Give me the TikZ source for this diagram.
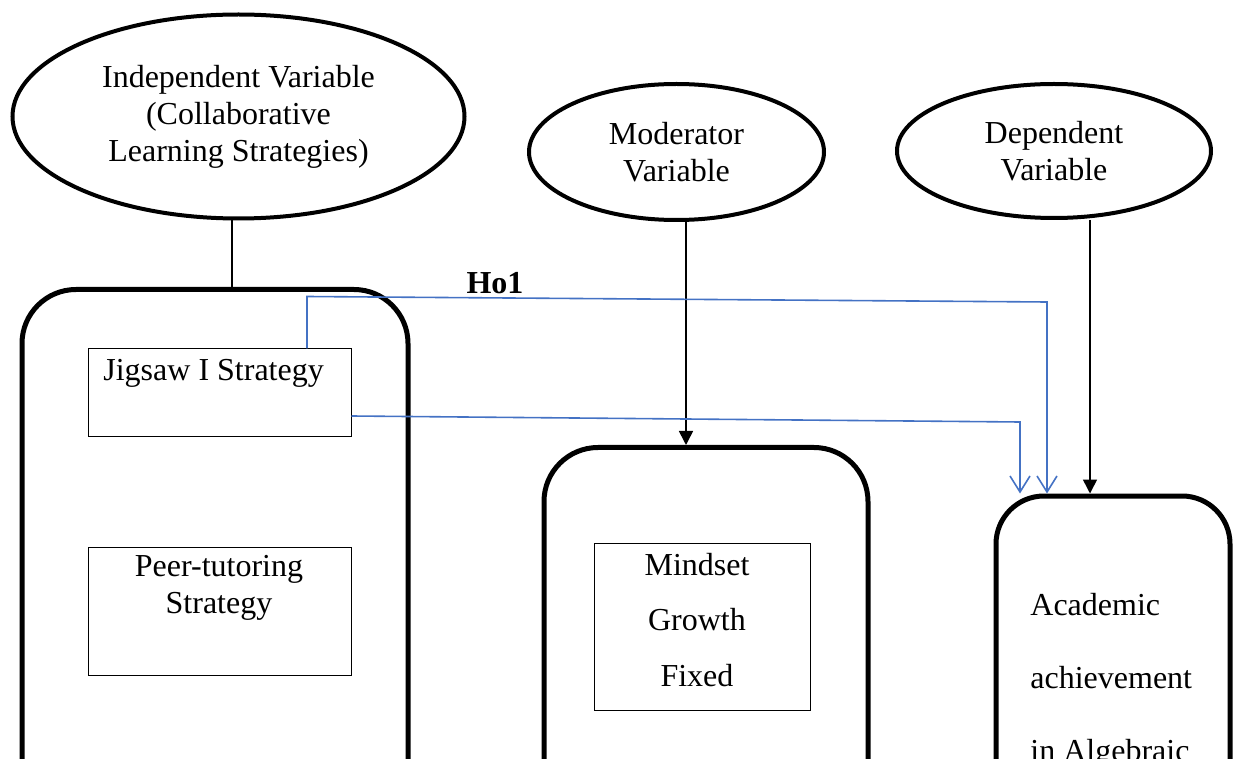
\documentclass[tikz,border=0pt]{standalone}
\usepackage{xcolor}
\usepackage{fontspec}
\setmainfont{Liberation Serif}
\usetikzlibrary{arrows.meta,shapes.geometric}

\begin{document}
\begin{tikzpicture}[x=0.5pt,y=-0.5pt]
    \definecolor{hoblue}{RGB}{68,114,196}

    \fontsize{16pt}{18.5pt}\selectfont  % font size
    \tikzstyle{var}=[ellipse,draw,line width=2pt,inner sep=0pt,align=center]  % variable ellipses
    \tikzstyle{group}=[rectangle,draw,line width=2.5pt,rounded corners=27pt]  % big rounded blocks
    \tikzstyle{item}=[rectangle,draw,line width=0.5pt]  % inner boxes
    \tikzstyle{txt}=[inner sep=0pt]  % plain text
    \tikzstyle{link}=[line width=0.8pt,-{Triangle[length=7pt,width=7pt]}]  % black arrows
    \tikzstyle{ho}=[hoblue,line width=0.8pt,-{Straight Barb[length=8pt,width=10pt]}]  % hypothesis arrows

    \useasboundingbox (0,0) rectangle (1238,759);
    \clip (0,0) rectangle (1238,759);

    % variables
    \node[var,minimum width=226pt,minimum height=102pt] (iv) at (238.5,116.5)
        {Independent Variable\\(Collaborative\\Learning Strategies)};
    \node[var,minimum width=147.5pt,minimum height=68pt] (mod) at (676.5,152)
        {Moderator\\Variable};
    \node[var,minimum width=157pt,minimum height=67pt] (dep) at (1054,151)
        {Dependent\\Variable};

    % big blocks
    \node[group,minimum width=193pt,minimum height=355pt] (box1) at (215,644.5) {};
    \node[group,minimum width=162pt,minimum height=276pt] (box2) at (706,723.5) {};
    \node[group,minimum width=117pt,minimum height=252pt,rounded corners=24pt] (box3) at (1113,748) {};

    % inner boxes
    \node[item,minimum width=131.5pt,minimum height=44pt] (jig) at (219.5,393) {};
    \node[item,minimum width=131.5pt,minimum height=64pt] (peer) at (219.5,611) {};
    \node[item,minimum width=108pt,minimum height=83.5pt] (mind) at (702,626.5) {};

    % texts
    \node[txt,anchor=base west] (jigtxt) at (103,380) {Jigsaw I Strategy};
    \node[txt,align=center] (peertxt) at (219,588) {Peer-tutoring\\Strategy};
    \node[txt,align=center,font=\fontsize{16pt}{27.75pt}\selectfont] (mindtxt) at (697,620)
        {Mindset\\Growth\\Fixed};
    \node[txt,align=left,anchor=north west,font=\fontsize{16pt}{36.5pt}\selectfont] (acad) at (1030,593)
        {Academic\\achievement\\in Algebraic};
    \node[txt,font=\bfseries] (ho1) at (495,283) {Ho1};

    % bend points
    \coordinate (h1) at (1047,302);
    \coordinate (h2) at (1020,422);

    % lines
    \draw[line width=0.8pt] ([xshift=-3.25pt]iv.south) -- ([xshift=-3.25pt]iv.south |- box1.north);
    \draw[link] ([xshift=4.75pt]mod.south) -- ([xshift=4.75pt]mod.south |- box2.north);
    \draw[link] ([xshift=18pt]dep.south) -- ([xshift=18pt]dep.south |- box3.north);
    \draw[ho] ([xshift=43.75pt]jig.north) -- ++(0,-52) -- (h1) -- (h1 |- box3.north);
    \draw[ho] ([yshift=-11.5pt]jig.east) -- (h2) -- (h2 |- box3.north);
\end{tikzpicture}
\end{document}
